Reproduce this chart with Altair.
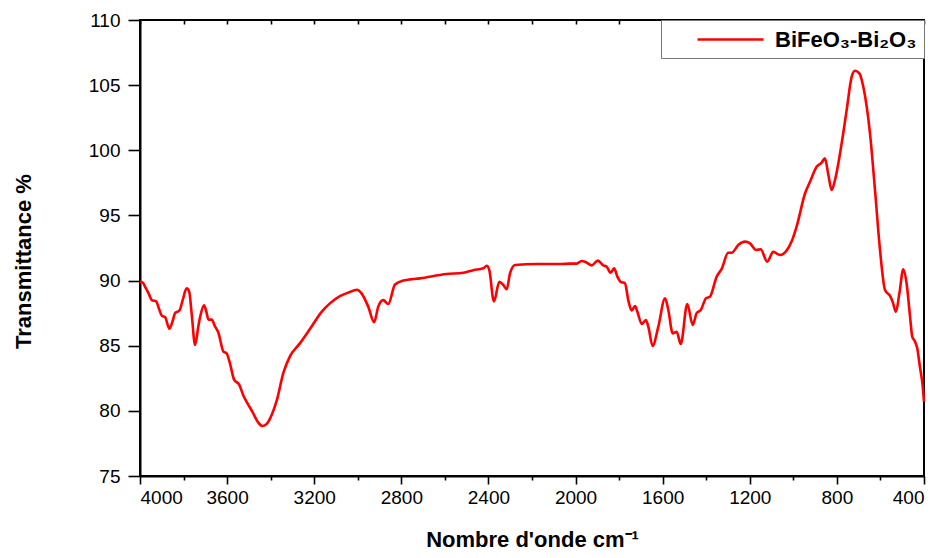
import altair as alt
import pandas as pd

# ---- data ----
wavenumber = [
    4000, 3985, 3977, 3960, 3946, 3926, 3912, 3900, 3885, 3865, 3850, 3839, 3819, 3804,
    3786, 3774, 3763, 3747, 3732, 3724, 3706, 3695, 3686, 3671, 3656, 3640, 3617, 3602,
    3587, 3568, 3544, 3526, 3507, 3483, 3457, 3437, 3418, 3395, 3372, 3342, 3311, 3265,
    3219, 3166, 3128, 3082, 3040, 3005, 2982, 2952, 2925, 2906, 2883, 2860, 2829, 2791,
    2714, 2592, 2515, 2470, 2424, 2408, 2396, 2375, 2350, 2332, 2316, 2301, 2278, 2178,
    2071, 2026, 1995, 1972, 1949, 1926, 1898, 1873, 1857, 1839, 1823, 1808, 1793, 1773,
    1758, 1742, 1727, 1716, 1696, 1677, 1666, 1646, 1620, 1589, 1574, 1554, 1536, 1517,
    1487, 1462, 1444, 1425, 1401, 1383, 1352, 1329, 1299, 1283, 1253, 1222, 1199, 1171,
    1150, 1120, 1092, 1061, 1031, 1008, 985, 946, 923, 893, 870, 855, 839, 824, 809,
    778, 755, 732, 717, 697, 679, 648, 625, 602, 579, 556, 544, 529, 513, 495, 480,
    464, 454, 441, 431, 419, 406, 400,
]
transmittance = [
    89.92, 89.8, 89.53, 89.0, 88.5, 88.4, 87.8, 87.3, 87.2, 86.3, 86.9, 87.5, 87.7, 88.5,
    89.4, 89.15, 87.5, 85.05, 86.5, 87.2, 88.1, 87.6, 87.0, 87.0, 86.5, 86.0, 84.55, 84.4,
    83.65, 82.4, 82.0, 81.2, 80.6, 79.9, 79.1, 78.84, 79.0, 79.7, 80.8, 82.9, 84.2, 85.2,
    86.3, 87.6, 88.25, 88.8, 89.1, 89.3, 89.0, 88.0, 86.8, 88.0, 88.5, 88.2, 89.7, 90.0,
    90.17, 90.5, 90.6, 90.8, 90.94, 91.14, 90.8, 88.4, 89.9, 89.66, 89.33, 90.56, 91.2, 91.27,
    91.27, 91.3, 91.3, 91.5, 91.38, 91.17, 91.53, 91.17, 91.06, 90.6, 90.94, 90.3, 89.9, 89.79,
    88.5, 87.7, 88.05, 87.6, 86.67, 86.97, 86.46, 84.98, 86.46, 88.64, 87.74, 85.95, 86.07, 85.13,
    88.2, 86.6, 87.5, 87.74, 88.64, 88.76, 90.3, 90.9, 92.14, 92.14, 92.73, 92.99, 92.86, 92.35,
    92.4, 91.45, 92.2, 91.96, 92.3, 92.99, 94.14, 96.7, 97.6, 98.74, 99.05, 99.38, 98.1, 96.95, 97.7,
    100.54, 103.1, 105.65, 106.1, 105.9, 104.9, 101.3, 96.95, 92.35, 89.28, 88.82, 88.38, 87.6, 89.02, 90.87, 89.79,
    87.23, 85.7, 85.31, 84.8, 83.4, 81.9, 80.7,
]
series_name = "BiFeO\u2083-Bi\u2082O\u2083"

x_ticks = list(range(4000, 399, -200))
y_ticks = [75 + 2.5 * i for i in range(15)]

df = pd.DataFrame({"wn": wavenumber, "T": transmittance, "series": series_name})

FONT = "Liberation Sans"

xscale = alt.Scale(domain=[4000, 400], nice=False, zero=False)
yscale = alt.Scale(domain=[75, 110], nice=False, zero=False)

line = alt.Chart(df).mark_line(strokeWidth=2.6, interpolate="monotone").encode(
    x=alt.X(
        "wn:Q",
        scale=xscale,
        axis=alt.Axis(
            values=x_ticks,
            format="d",
            labelExpr="datum.value % 400 === 0 ? datum.label : ''",
            tickSize={"condition": {"test": "datum.value % 400 === 0", "value": 8}, "value": 4},
            labelPadding=4,
            labelFontSize=19,
            title="Nombre d'onde cm\u207b\u00b9",
            titleFontSize=22,
            titleFontWeight="bold",
            titleBaseline="alphabetic",
            titleY=70,
        ),
    ),
    y=alt.Y(
        "T:Q",
        scale=yscale,
        axis=alt.Axis(
            values=y_ticks,
            labelExpr="datum.value % 5 === 0 ? datum.label : ''",
            tickSize={"condition": {"test": "datum.value % 5 === 0", "value": 12}, "value": 6},
            labelPadding=8,
            labelFontSize=19,
            title="Transmittance %",
            titleFontSize=22,
            titleFontWeight="bold",
            titleBaseline="alphabetic",
            titleX=-110,
            titleY=241,
        ),
    ),
    color=alt.Color(
        "series:N",
        scale=alt.Scale(range=["#ff0000"]),
        legend=alt.Legend(
            title=None,
            orient="top-right",
            offset=0,
            symbolType="M-3,0L3,0",
            symbolSize=484,
            symbolStrokeWidth=2.5,
            symbolStrokeColor="#ff0000",
            symbolOffset=50,
            labelFontSize=22,
            labelFontWeight="bold",
            labelOffset=32,
            labelFont=FONT,
            strokeColor="#777777",
            fillColor="white",
            padding=7,
        ),
    ),
    order=alt.Order("wn:Q", sort="descending"),
)

top_ticks = alt.Chart(df).mark_line(opacity=0).encode(
    x=alt.X(
        "wn:Q",
        scale=xscale,
        axis=alt.Axis(
            orient="top", values=x_ticks, labels=False, domain=False,
            tickSize=4, offset=-4, title=None,
        ),
    ),
    y=alt.Y("T:Q", scale=yscale),
    order=alt.Order("wn:Q", sort="descending"),
)

chart = (
    alt.layer(line, top_ticks)
    .resolve_axis(x="independent")
    .properties(
        width=784,
        height=456,
        autosize=alt.AutoSizeParams(type="none"),
        padding={"left": 132, "top": 12, "right": 14, "bottom": 74},
        background="white",
    )
    .configure_view(stroke="black", strokeWidth=2)
    .configure_axis(
        grid=False,
        domainColor="black",
        domainWidth=2,
        tickColor="black",
        tickWidth=1.6,
        labelColor="black",
        titleColor="black",
        labelFont=FONT,
        titleFont=FONT,
    )
)

chart.save("out.html", embed_options={"renderer": "svg", "actions": False})
